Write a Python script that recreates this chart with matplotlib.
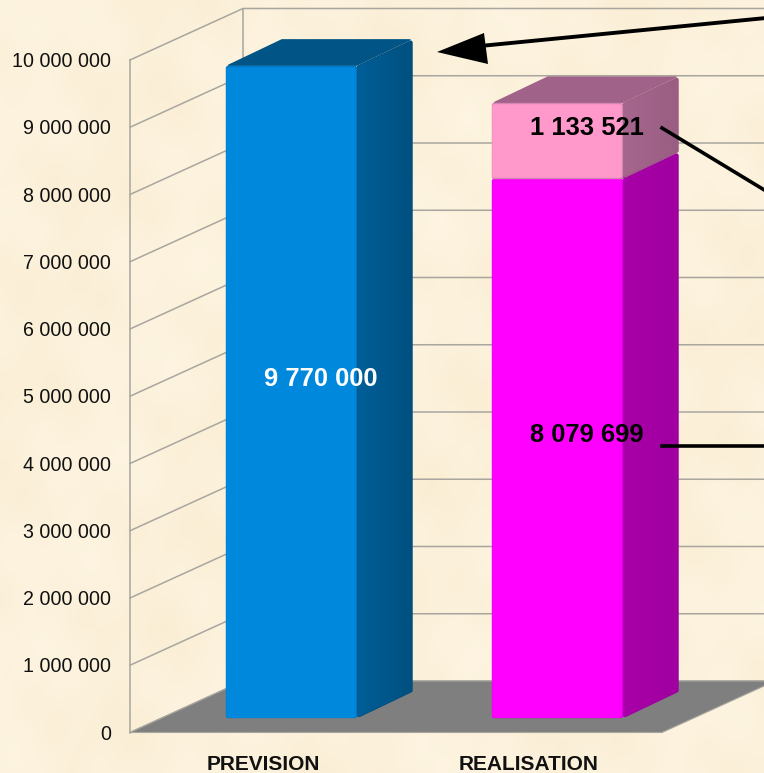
import numpy as np
import matplotlib
matplotlib.use('Agg')
import matplotlib.pyplot as plt
from matplotlib.colors import to_rgb
from matplotlib.patches import Polygon

plt.rcParams['font.family'] = ['Liberation Sans', 'DejaVu Sans']

categories = ['PREVISION', 'REALISATION']
prevision = [9770000]
realisation = [8079699, 1133521]
prevision_labels = ['9 770 000']
realisation_labels = ['8 079 699', '1 133 521']
ticks = [0, 1000000, 2000000, 3000000, 4000000, 5000000, 6000000, 7000000, 8000000, 9000000, 10000000]

W, H = 764, 773
PX_X = 266.0          # pixels per category
PX_Y = 67.25 / 1e6    # pixels per unit
X0 = 130 + PX_X / 2   # pixel of category 0
Y0 = 732.5            # pixel of value 0
DX = 113 / PX_X       # depth shift for the whole floor
DY = 51.5 / PX_Y
BAR_SCALE = 66.8 / 67.25
Z1, Z2 = 0.272, 0.790
HALF = 65.5 / PX_X
SHIFT = -2.5 / PX_X
SIDE_DX = 56 / PX_X   # bar depth is a little narrower in x than on the floor


def proj(x, v, z=0.0):
    return (x + z * DX, v + z * DY)


def inset(pts, d):
    # move every edge of the polygon inwards by d pixels, so a thick round edge gives soft corners
    p = np.array(pts, dtype=float) * [PX_X, PX_Y]
    c = p.mean(axis=0)
    lines = []
    for i in range(len(p)):
        a, b = p[i], p[(i + 1) % len(p)]
        n = np.array([-(b - a)[1], (b - a)[0]]) / np.hypot(*(b - a))
        if np.dot(n, c - a) < 0:
            n = -n
        lines.append((a + n * d, b - a))
    out = []
    for i in range(len(p)):
        a1, d1 = lines[i - 1]
        a2, d2 = lines[i]
        t = np.linalg.solve(np.array([d1, -d2]).T, a2 - a1)
        out.append(a1 + d1 * t[0])
    return np.array(out) / [PX_X, PX_Y]


fig = plt.figure(figsize=(W / 100, H / 100), dpi=100)
ax = fig.add_axes([0, 0, 1, 1])
ax.set_xlim(-X0 / PX_X, (W - X0) / PX_X)
ax.set_ylim(-(H - Y0) / PX_Y, Y0 / PX_Y)
ax.axis('off')

# parchment background
yy, xx = np.mgrid[0:H:2, 0:W:2]
tex = (np.sin(xx / 37 + yy / 91) + np.sin(xx / 13 - yy / 29 + 1) * 0.6
       + np.sin(xx / 71 - yy / 17 + 2) * 0.7 + np.sin(xx / 7 + yy / 11) * 0.25)
base = np.array([252, 241, 219]) / 255
bg = np.clip(base[None, None, :] + tex[:, :, None] * np.array([0.002, 0.005, 0.010]), 0, 1)
ax.imshow(bg, extent=[*ax.get_xlim(), *ax.get_ylim()], aspect='auto', zorder=0, origin='upper')

grid = '#a8a69e'
x_l, x_r = -0.5, 1.5
top = ticks[-1]
for t in ticks:
    a, b, c = proj(x_l, t), proj(x_l, t, 1), proj(x_r, t, 1)
    ax.plot([a[0], b[0], c[0]], [a[1], b[1], c[1]], color=grid, lw=1.1, zorder=1)
    ax.text(x_l - 19 / PX_X, t - 1.5 / PX_Y, f'{t:,}'.replace(',', ' '), ha='right', va='center',
            fontsize=14.1, color='#111111', zorder=6)
ax.plot([x_l, x_l], [0, top], color=grid, lw=1.1, zorder=1)
ax.plot([proj(x_l, 0, 1)[0]] * 2, [proj(x_l, 0, 1)[1], proj(x_l, top, 1)[1]], color=grid, lw=1.1, zorder=1)

floor = [proj(x_l, 0), proj(x_r, 0), proj(x_r, 0, 1), proj(x_l, 0, 1)]
ax.add_patch(Polygon(floor, closed=True, fc='#7f7f7f', ec='#a8a69e', lw=0.8, zorder=2))


def soft(pts, color, z, d=2.2):
    # lw in points, 2*d pixels wide
    patch = Polygon(inset(pts, d), closed=True, fc=color, ec=color, lw=2 * d * 0.72, joinstyle='round', zorder=z)
    ax.add_patch(patch)
    return patch


def box(x, v0, v1, front, edge, side_a, side_b, top_c, z):
    l, r = x + SHIFT - HALF, x + SHIFT + HALF
    v0, v1 = v0 * BAR_SCALE, v1 * BAR_SCALE

    def back(px_x, v):
        p = proj(px_x, v, Z2)
        return (px_x + Z1 * DX + SIDE_DX, p[1])

    side_pts = [proj(r, v0, Z1), back(r, v0), back(r, v1), proj(r, v1, Z1)]
    top_pts = [proj(l, v1, Z1), proj(r, v1, Z1), back(r, v1), back(l, v1)]
    front_pts = [proj(l, v0, Z1), proj(r, v0, Z1), proj(r, v1, Z1), proj(l, v1, Z1)]
    soft(top_pts, top_c, z, d=0.6)
    soft(side_pts, side_b, z + 0.01)
    # side face runs a little darker towards the back
    clip = Polygon(inset(side_pts, 1.0), closed=True, transform=ax.transData)
    ramp = np.linspace(to_rgb(side_a), to_rgb(side_b), 32)[None, :, :]
    sx = [p[0] for p in side_pts]
    sy = [p[1] for p in side_pts]
    im = ax.imshow(ramp, extent=[min(sx), max(sx), min(sy), max(sy)], aspect='auto', zorder=z + 0.02)
    im.set_clip_path(clip)
    soft(front_pts, edge, z + 0.1)
    soft(inset(front_pts, 0.9), front, z + 0.11, d=1.8)


def mid(x, v0, v1, nudge=0.0):
    p = proj(x + SHIFT, (v0 + v1) / 2 * BAR_SCALE, (Z1 + Z2) / 2)
    return (p[0] + nudge / PX_X, p[1])


box(0, 0, prevision[0], '#0088dd', '#0077c2', '#005e98', '#00507f', '#005486', 3)
box(1, 0, realisation[0], '#ff00ff', '#dd00dd', '#a800a8', '#a000a0', '#a600a6', 3.3)
box(1, realisation[0], realisation[0] + realisation[1], '#ff99cc', '#d585b2', '#a6668e', '#9a5e82', '#a06288', 3.6)

ax.text(*mid(0, 0, prevision[0]), prevision_labels[0], ha='center', va='center',
        fontsize=18.4, fontweight='bold', color='white', zorder=6)
ax.text(*mid(1, 0, realisation[0], 0.5), realisation_labels[0], ha='center', va='center',
        fontsize=18.4, fontweight='bold', color='black', zorder=6)
ax.text(*mid(1, realisation[0], realisation[0] + realisation[1], 0.5), realisation_labels[1], ha='center',
        va='center', fontsize=18.4, fontweight='bold', color='black', zorder=6)

for i, c in enumerate(categories):
    ax.text(i, -31.5 / PX_Y, c, ha='center', va='center', fontsize=15, fontweight='bold',
            color='#111111', zorder=6)


# callouts, placed in picture pixels
def px(x, y):
    return ((x - X0) / PX_X, (Y0 - y) / PX_Y)


ax.plot(*zip(px(470, 47), px(766, 18)), color='black', lw=2.8, zorder=7)
ax.add_patch(Polygon([px(437, 52), px(484, 33), px(488, 64)], closed=True, fc='black', ec='none', zorder=7))
ax.plot(*zip(px(662, 128), px(766, 191)), color='black', lw=2.6, zorder=7)
ax.plot(*zip(px(662, 446), px(766, 446)), color='black', lw=2.6, zorder=7)

fig.savefig('out.png', dpi=100)
